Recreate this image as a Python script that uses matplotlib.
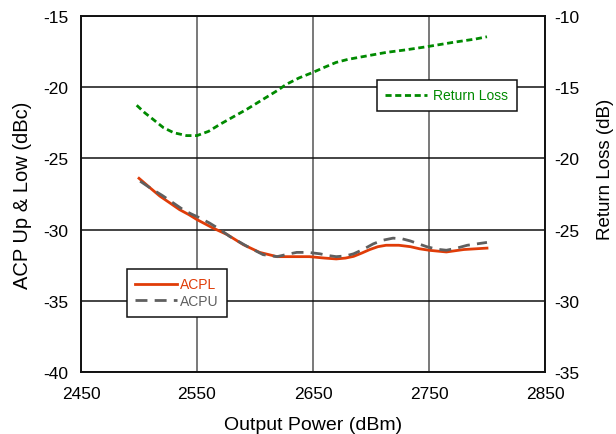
import matplotlib.pyplot as plt

plt.rcParams['font.family'] = ['Liberation Sans', 'DejaVu Sans']
plt.rcParams['axes.unicode_minus'] = False

# ACPL (lower adjacent channel power)
acpl_x = [2500, 2510, 2518, 2527, 2535, 2543, 2550, 2557, 2564, 2576, 2590, 2604, 2619, 2633, 2647,
          2660, 2670, 2678, 2685, 2692, 2699, 2706, 2713, 2724, 2734, 2742, 2751, 2765, 2780, 2800]
acpl_y = [-26.4, -27.1, -27.65, -28.15, -28.6, -28.95, -29.3, -29.6, -29.9, -30.35, -31.06, -31.6,
          -31.9, -31.9, -31.9, -32.0, -32.06, -32.0, -31.88, -31.65, -31.4, -31.2, -31.1, -31.1,
          -31.2, -31.35, -31.46, -31.57, -31.4, -31.3]

# ACPU (upper adjacent channel power)
acpu_x = [2501, 2510, 2520, 2529, 2538, 2545, 2553, 2561, 2570, 2578, 2593, 2607, 2619, 2627, 2636,
          2646, 2656, 2663, 2670, 2678, 2685, 2693, 2702, 2710, 2719, 2727, 2734, 2748, 2757, 2765,
          2774, 2783, 2800]
acpu_y = [-26.6, -27.1, -27.6, -28.1, -28.6, -28.9, -29.2, -29.55, -30.0, -30.47, -31.17, -31.76,
          -31.9, -31.75, -31.6, -31.6, -31.7, -31.82, -31.9, -31.85, -31.7, -31.4, -31.0, -30.75,
          -30.6, -30.65, -30.8, -31.2, -31.38, -31.45, -31.3, -31.1, -30.9]

# return loss, right axis
rl_x = [2498, 2505, 2512, 2521, 2530, 2541, 2550, 2560, 2570, 2582, 2593, 2602, 2610, 2619, 2627,
        2638, 2650, 2660, 2670, 2680, 2690, 2713, 2730, 2748, 2771, 2790, 2800]
rl_y = [-16.27, -16.8, -17.25, -17.84, -18.2, -18.4, -18.4, -18.1, -17.6, -17.05, -16.55, -16.1,
        -15.7, -15.25, -14.8, -14.35, -13.96, -13.6, -13.26, -13.05, -12.9, -12.56, -12.38, -12.16,
        -11.85, -11.62, -11.46]

fig = plt.figure(figsize=(6.16, 4.35), dpi=100)
ax = fig.add_axes([0.1315, 0.1425, 0.7532, 0.8185])
ax2 = ax.twinx()

l1, = ax.plot(acpl_x, acpl_y, color='#e03c08', lw=2.0, label='ACPL')
l2, = ax.plot(acpu_x, acpu_y, color='#5f5f5f', lw=2.0, ls=(0, (4.3, 2.6)), label='ACPU')
l3, = ax2.plot(rl_x, rl_y, color='#008a00', lw=2.0, ls=(0, (2.2, 1.3)), label='Return Loss')

ax.set_xlim(2450, 2850)
ax.set_ylim(-40, -15)
ax2.set_ylim(-35, -10)
ax.set_xticks([2450, 2550, 2650, 2750, 2850])
ax.set_yticks([-40, -35, -30, -25, -20, -15])
ax2.set_yticks([-35, -30, -25, -20, -15, -10])

ax.grid(True, axis='y', color='#111111', lw=1.1)
ax.grid(True, axis='x', color='#555555', lw=1.1)
ax.tick_params(axis='x', labelsize=12.5, length=0, pad=10)
ax.tick_params(axis='y', labelsize=12.5, length=0, pad=9)
ax2.tick_params(labelsize=12.5, length=0, pad=7)
for sp in list(ax.spines.values()) + list(ax2.spines.values()):
    sp.set_color('#111111')
    sp.set_linewidth(1.2)

ax.set_xlabel('Output Power (dBm)', fontsize=14, labelpad=11)
ax.set_ylabel('ACP Up & Low (dBc)', fontsize=14.5)
ax.yaxis.set_label_coords(-0.106, 0.5)
ax2.set_ylabel('Return Loss (dB)', fontsize=13.5)
ax2.yaxis.set_label_coords(1.113, 0.573)

leg1 = ax2.legend([l1, l2], ['ACPL', 'ACPU'], loc='upper left', bbox_to_anchor=(0.099, 0.289),
                  fontsize=10, fancybox=False, edgecolor='#111111', framealpha=1,
                  labelcolor='linecolor', handlelength=3.0, handletextpad=0.2,
                  borderpad=0.6, labelspacing=0.2, borderaxespad=0)
leg1.get_frame().set_linewidth(1.1)
ax2.add_artist(leg1)
leg2 = ax2.legend([l3], ['Return Loss'], loc='upper left', bbox_to_anchor=(0.638, 0.82),
                  fontsize=10, fancybox=False, edgecolor='#111111', framealpha=1,
                  labelcolor='linecolor', handlelength=3.0, handletextpad=0.45,
                  borderpad=0.6, borderaxespad=0)
leg2.get_frame().set_linewidth(1.1)

fig.savefig('out.png', dpi=100)
